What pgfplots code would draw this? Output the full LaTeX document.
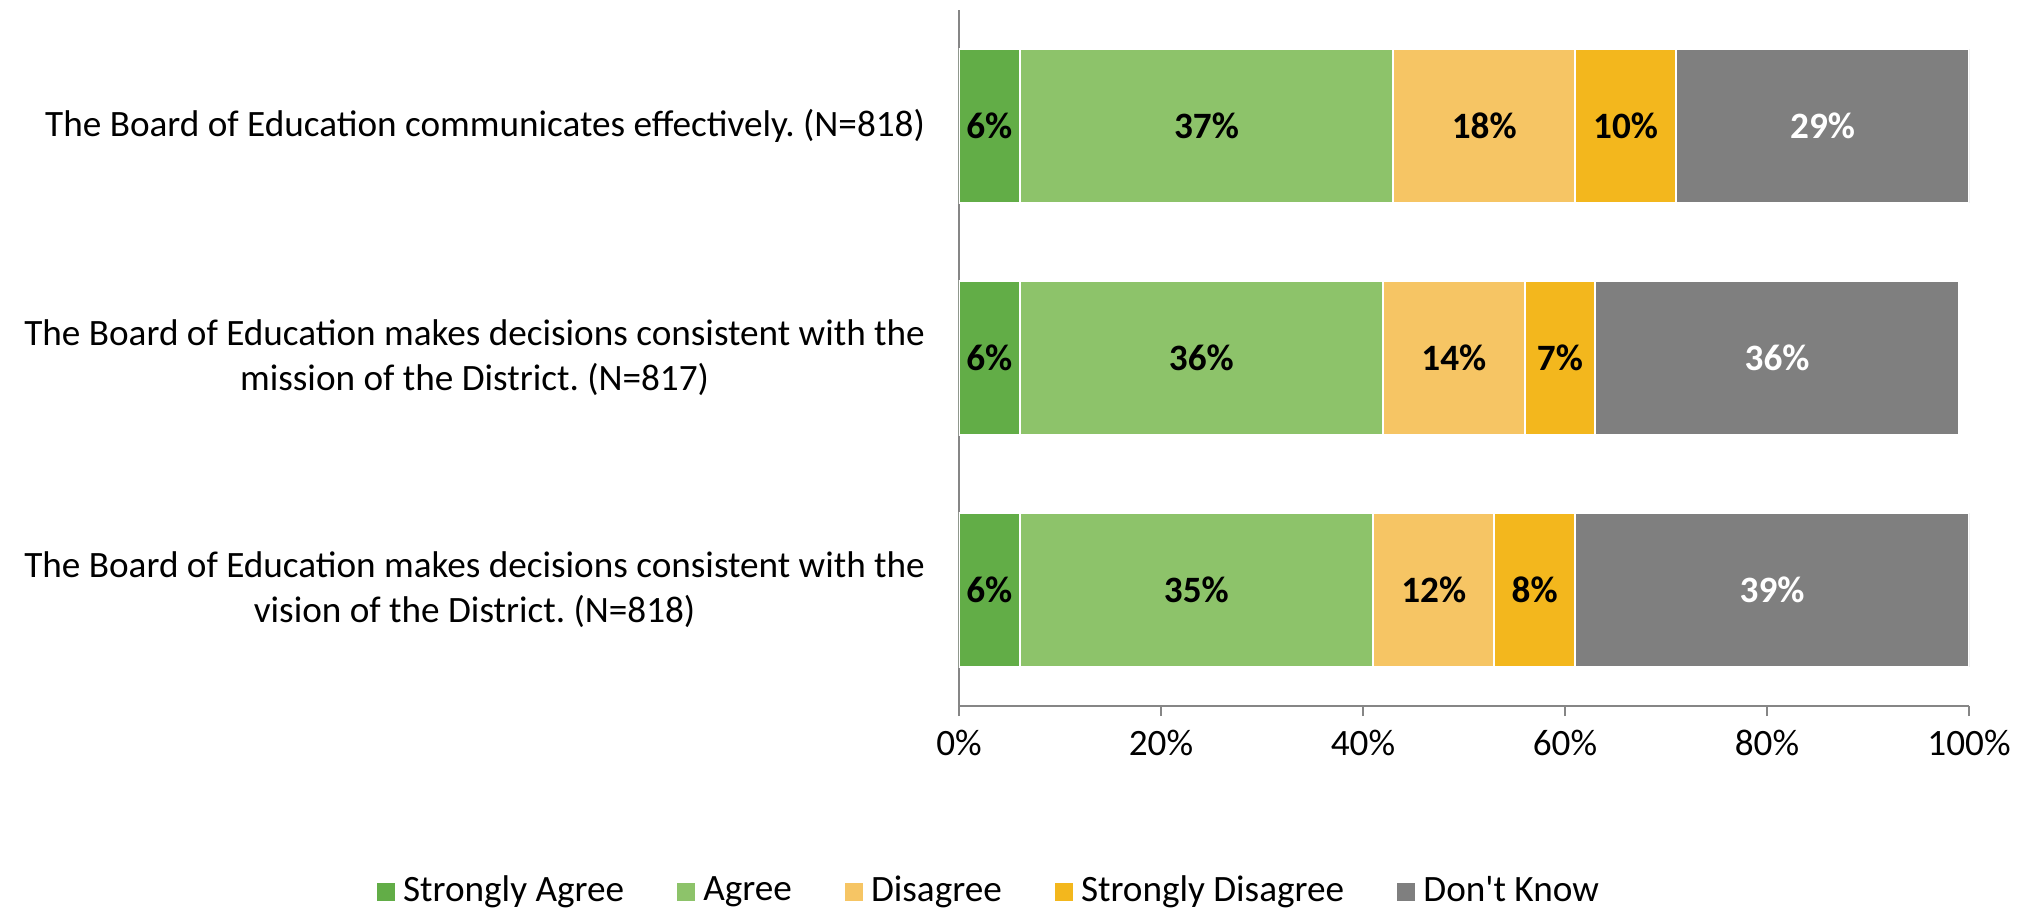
\documentclass[border=0pt]{standalone}
\usepackage{fontspec}
\setmainfont{Carlito}
\usepackage{pgfplots}
\usepackage{pgfplotstable}
\pgfplotsset{compat=1.18}
\definecolor{cSA}{HTML}{62AD47}
\definecolor{cA}{HTML}{8DC36A}
\definecolor{cD}{HTML}{F6C564}
\definecolor{cSD}{HTML}{F3B71D}
\definecolor{cDK}{HTML}{7F7F7F}
\definecolor{axgray}{HTML}{868686}
\pgfplotstableread{
y SA A D SD DK
2 6 37 18 10 29
1 6 36 14 7 36
0 6 35 12 8 39
}\data
\newcommand{\lblfont}{\fontsize{9.3}{11.3}\selectfont}
\frenchspacing
\begin{document}
\begin{tikzpicture}
\begin{axis}[
  name=ax,
  scale only axis,
  width=252.5pt, height=174pt,
  xbar stacked,
  bar width=38.4pt,
  xmin=0, xmax=100,
  ymin=-0.5, ymax=2.5,
  enlarge y limits=false,
  axis x line*=bottom,
  axis y line*=left,
  axis line style={axgray, line width=0.4pt},
  tick align=outside,
  major tick length=2.5pt,
  minor tick length=2.5pt,
  tick style={axgray, line width=0.4pt},
  xtick={0,20,40,60,80,100},
  xticklabel={\pgfmathprintnumber{\tick}\%},
  /pgf/number format/assume math mode=true,
  ytick={0,1,2},
  ytick style={draw=none},
  minor ytick={-0.5,0.5,1.5,2.5},
  yticklabels={{The Board of Education makes decisions consistent with the\\vision of the District. (N=818)},
               {The Board of Education makes decisions consistent with the\\mission of the District. (N=817)},
               {The Board of Education communicates effectively. (N=818)}},
  yticklabel style={align=center, font=\lblfont, anchor=east, inner sep=0pt, xshift=-5.8pt},
  xticklabel style={font=\lblfont},
  point meta=rawx,
  nodes near coords={\pgfmathprintnumber{\pgfplotspointmeta}\%},
  every node near coord/.append style={anchor=center, font=\bfseries\lblfont, black},
  legend columns=5,
  legend style={draw=none, font=\lblfont, at={(axis description cs:0.0327,-0.267)}, anchor=center,
     /tikz/every even column/.append style={column sep=11.3pt}},
  legend image code/.code={\fill[#1,draw=none] (0pt,-2.25pt) rectangle (4.5pt,2.25pt);},
]
\addplot[fill=cSA, draw=white, line width=0.5pt] table[x=SA, y=y] {\data};
\addplot[fill=cA, draw=white, line width=0.5pt] table[x=A, y=y] {\data};
\addplot[fill=cD, draw=white, line width=0.5pt] table[x=D, y=y] {\data};
\addplot[fill=cSD, draw=white, line width=0.5pt] table[x=SD, y=y] {\data};
\addplot[fill=cDK, draw=white, line width=0.5pt, every node near coord/.append style={white}] table[x=DK, y=y] {\data};
\legend{Strongly Agree, Agree, Disagree, Strongly Disagree, Don\textquotesingle t Know}
\end{axis}
\pgfresetboundingbox
\path[use as bounding box] ([shift={(-239.75pt,-51.25pt)}]ax.south west) rectangle ([shift={(15.25pt,2.5pt)}]ax.north east);
\end{tikzpicture}
\end{document}
